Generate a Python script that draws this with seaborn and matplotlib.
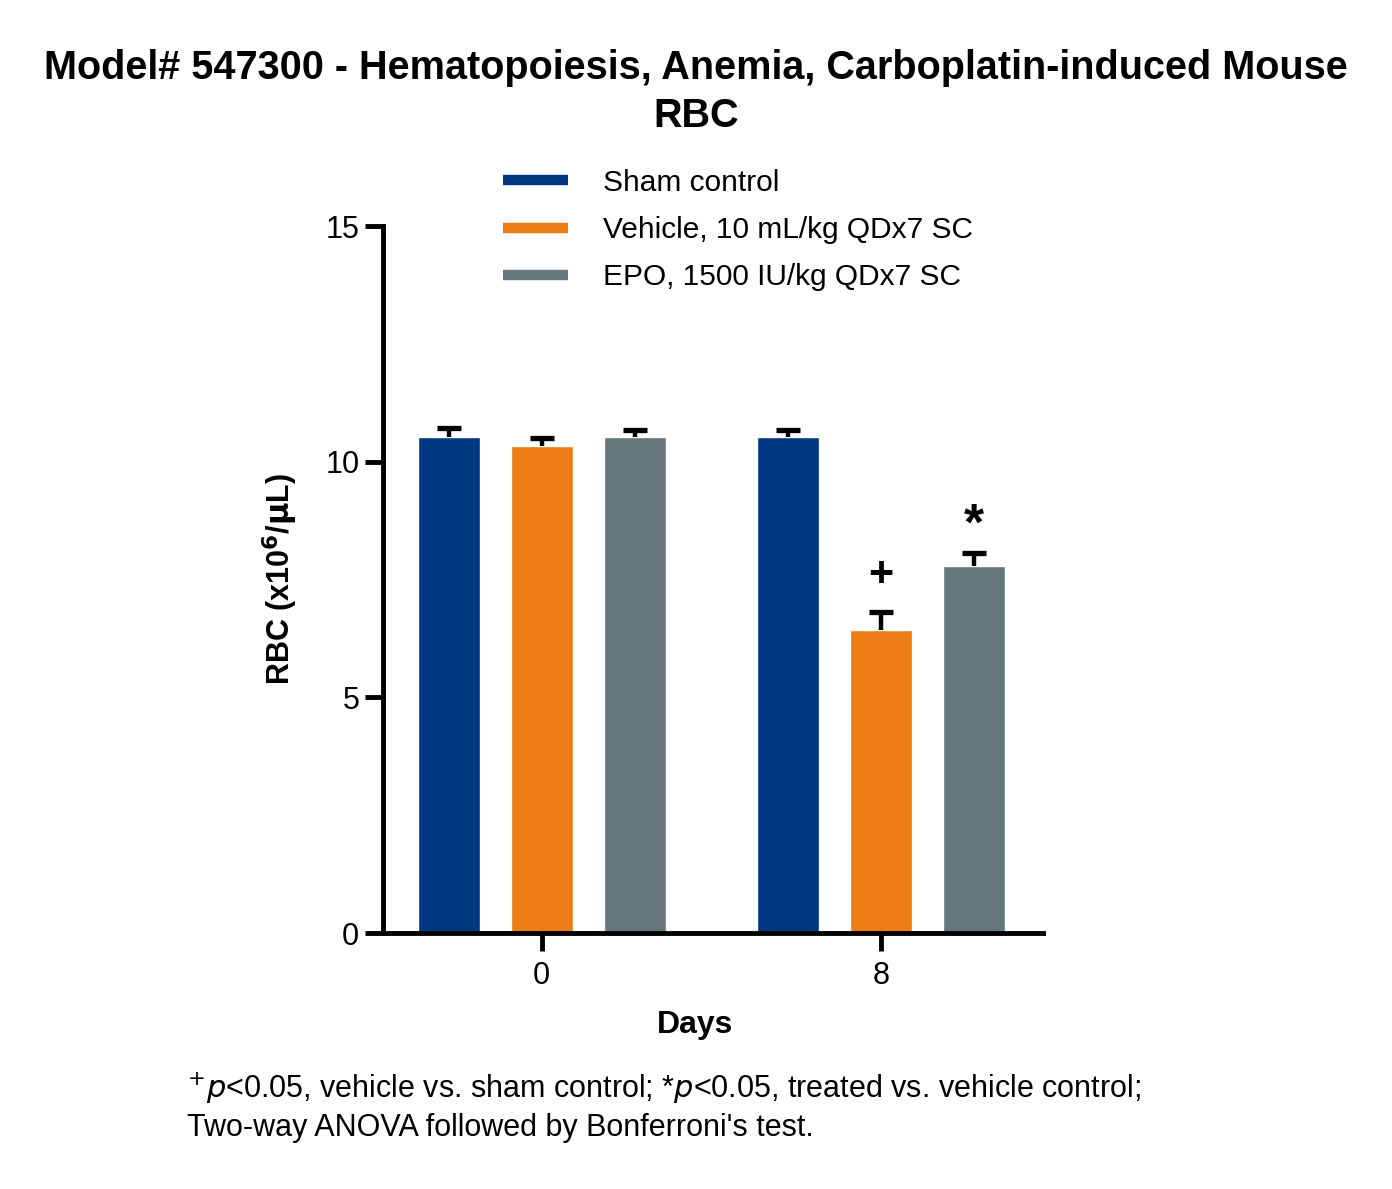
import matplotlib
matplotlib.use("Agg")
import matplotlib.pyplot as plt
import seaborn as sns
import pandas as pd
import numpy as np
from matplotlib.lines import Line2D

days = ["0", "8"]
groups = ["Sham control", "Vehicle, 10 mL/kg QDx7 SC", "EPO, 1500 IU/kg QDx7 SC"]
sham_mean = [10.52, 10.52]
vehicle_mean = [10.33, 6.43]
epo_mean = [10.52, 7.79]
sham_sem = [0.20, 0.16]
vehicle_sem = [0.17, 0.38]
epo_sem = [0.15, 0.27]
colors = ["#003781", "#EC7D14", "#66777C"]
annotations = {("Vehicle, 10 mL/kg QDx7 SC", "8"): "+", ("EPO, 1500 IU/kg QDx7 SC", "8"): "*"}

means = [sham_mean, vehicle_mean, epo_mean]
sems = [sham_sem, vehicle_sem, epo_sem]
rows = []
for g, m, s in zip(groups, means, sems):
    for d, mv, sv in zip(days, m, s):
        rows.append({"Days": d, "Group": g, "RBC": mv, "SEM": sv})
df = pd.DataFrame(rows)

sns.set_style("white")
plt.rcParams['font.family'] = ['Liberation Sans', 'DejaVu Sans']
plt.rcParams['text.color'] = 'black'
plt.rcParams['axes.labelcolor'] = 'black'
plt.rcParams['xtick.color'] = 'black'
plt.rcParams['ytick.color'] = 'black'

fig = plt.figure(figsize=(13.92, 11.89), dpi=100)
ax = fig.add_axes([0.2751, 0.2153, 0.4742, 0.5946])

sns.barplot(data=df, x="Days", y="RBC", hue="Group", hue_order=groups, order=days,
            palette=colors, width=0.823, gap=0.333, errorbar=None, saturation=1,
            ax=ax, legend=False)

bar_containers = list(ax.containers)
for gi, cont in enumerate(bar_containers):
    g = groups[gi]
    sub = df[df.Group == g].set_index("Days").loc[days]
    xs = [p.get_x() + p.get_width() / 2 for p in cont]
    hs = [p.get_height() for p in cont]
    errs = sub["SEM"].values
    eb = ax.errorbar(xs, hs, yerr=[np.zeros(len(errs)), errs], fmt="none",
                     ecolor="black", elinewidth=3.2, capsize=8.3, capthick=3.8, zorder=3)
    for cl in eb[1]:
        if np.allclose(cl.get_ydata(), hs):
            cl.set_visible(False)
    for x, h, e, d in zip(xs, hs, errs, days):
        key = (g, d)
        if key in annotations:
            sym = annotations[key]
            if sym == "+":
                ax.text(x, h + e + 0.36, sym, ha="center", va="bottom",
                        fontsize=31, fontweight="bold")
            else:
                ax.text(x, h + e + 0.06, sym, ha="center", va="bottom",
                        fontsize=37, fontweight="bold")

ax.set_xlim(-0.468, 1.478)
ax.set_ylim(0, 15)
ax.set_yticks([0, 5, 10, 15])
for s in ["top", "right"]:
    ax.spines[s].set_visible(False)
for s in ["left", "bottom"]:
    ax.spines[s].set_linewidth(3.5)
    ax.spines[s].set_color("black")
ax.tick_params(axis="both", direction="out", length=13, width=3.5, labelsize=22,
               color="black", left=True, bottom=True)
ax.tick_params(axis="y", pad=4)
ax.tick_params(axis="x", pad=7)
ax.set_xlabel("Days", fontsize=23, fontweight="bold", labelpad=14)
ax.xaxis.label.set_x(0.473)
ax.set_ylabel(r"RBC (x10$^{\mathbf{6}}$/$\mathbf{\mu}$L)", fontsize=22, fontweight="bold", labelpad=18)

handles = [Line2D([0], [0], color=c, lw=7.5, solid_capstyle="butt") for c in colors]
leg = ax.legend(handles, groups, loc="center left", bbox_to_anchor=(0.1818, 0.9943),
                frameon=False, fontsize=21.5, handlelength=2.18, handletextpad=1.17,
                labelspacing=0.64, borderpad=0, borderaxespad=0)

fig.text(0.5, 0.9428, "Model# 547300 - Hematopoiesis, Anemia, Carboplatin-induced Mouse",
         ha="center", va="center", fontsize=28.5, fontweight="bold")
fig.text(0.5, 0.9024, "RBC", ha="center", va="center", fontsize=28.5, fontweight="bold")

fig.text(0.134, 0.085, r"$^{+}$$\it{p}$<0.05, vehicle vs. sham control; *$\it{p}$<0.05, treated vs. vehicle control;",
         ha="left", va="center", fontsize=22)
fig.text(0.134, 0.051, "Two-way ANOVA followed by Bonferroni's test.",
         ha="left", va="center", fontsize=22)

fig.savefig("out.png", dpi=100)
